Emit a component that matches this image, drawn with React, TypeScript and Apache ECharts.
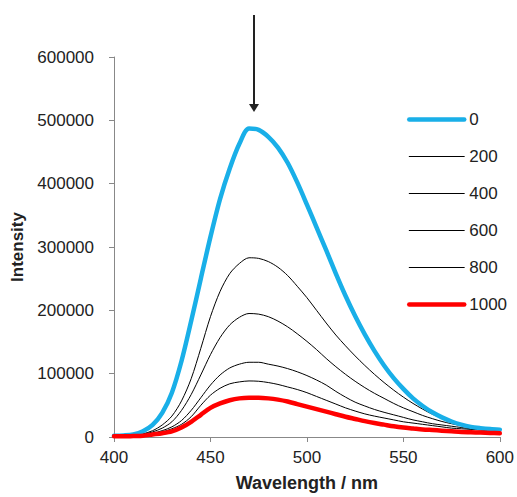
import React, { useEffect, useRef } from "react";
import * as echarts from "echarts";

const wavelengths = [
  400, 405, 410, 415, 420, 425, 430, 435, 440, 445, 450, 455, 460, 465, 470, 475, 480, 485, 490, 495,
  500, 505, 510, 515, 520, 525, 530, 535, 540, 545, 550, 555, 560, 565, 570, 575, 580, 585, 590, 595, 600,
];
const seriesNames = ["0", "200", "400", "600", "800", "1000"];
// values in thousands
const s0 = [2, 2.5, 4, 9, 19, 38, 70, 120, 183, 250, 316, 376, 424, 463, 487, 485, 474, 457, 433, 402,
  367, 331, 295, 258, 223, 191, 162, 136, 113, 93, 76, 61, 49, 39, 31, 24.5, 19.5, 16, 14, 12.5, 11.5];
const s200 = [1, 1.5, 2.5, 5, 10, 19, 33, 57, 92, 140, 190, 230, 258, 274, 283, 282, 277, 268, 255, 238,
  220, 200, 180, 161, 144, 128, 113, 99, 86, 74, 63, 53, 44, 36, 29.5, 24, 20, 17, 15, 13.5, 12.5];
const s400 = [1, 1.5, 2, 4, 8, 14, 24, 42, 67, 98, 130, 157, 177, 189, 195, 194, 190, 183, 174, 163,
  151, 138, 124, 111, 99, 88, 78, 69, 61, 53, 46, 40, 34, 29, 24.5, 21, 18, 16, 14, 12.5, 11.5];
const s600 = [1, 1, 2, 3, 6, 10, 16, 26, 42, 62, 82, 98, 109, 115, 118, 118, 115, 112, 108, 103,
  97, 90, 82, 72, 63, 55, 49, 43.5, 39, 35, 31, 27, 24, 21, 19, 17, 15, 13, 12, 11, 10];
const s800 = [1, 1, 1.5, 3, 5, 8, 13, 20, 32, 50, 66, 77, 84, 87, 88.5, 88, 86, 83, 79, 75,
  70, 64, 58, 52, 46, 41, 36.5, 33, 30, 27, 24, 22, 20, 18, 16, 14, 13, 12, 11, 10, 9];
const s1000 = [1, 1, 1.5, 2, 4, 6, 9, 15, 24, 35, 46, 53, 58, 61, 62, 62, 61, 59, 56, 52,
  48, 44, 40, 36, 32, 28.5, 25, 22, 19.5, 17, 15, 13.5, 12, 11, 10, 9, 8, 7.5, 7, 6.5, 6];
const allValues = [s0, s200, s400, s600, s800, s1000];
const colors = ["#19afe8", "#000000", "#000000", "#000000", "#000000", "#ff0000"];
const widths = [4.5, 1, 1, 1, 1, 4.5];
const yTicks = [0, 100000, 200000, 300000, 400000, 500000, 600000];

export default function App() {
  const ref = useRef<HTMLDivElement>(null);
  useEffect(() => {
    if (!ref.current) return;
    const chart = echarts.init(ref.current, null, { renderer: "svg" });
    const font = "Liberation Sans, Arial, sans-serif";
    chart.setOption({
      animation: false,
      textStyle: { fontFamily: font },
      grid: { left: 114, right: 16, top: 57, bottom: 57.5, containLabel: false },
      xAxis: {
        type: "value",
        min: 400,
        max: 600,
        interval: 50,
        name: "Wavelength / nm",
        nameLocation: "middle",
        nameGap: 37,
        nameTextStyle: { fontSize: 18, fontWeight: "bold", color: "#222", fontFamily: font },
        axisLine: { show: true, lineStyle: { color: "#888", width: 1 } },
        axisTick: { show: true, length: 5, lineStyle: { color: "#888" } },
        axisLabel: { fontSize: 17, color: "#222", margin: 12, fontFamily: font },
        splitLine: { show: false },
      },
      yAxis: {
        type: "value",
        min: yTicks[0],
        max: yTicks[yTicks.length - 1],
        interval: 100000,
        name: "Intensity",
        nameLocation: "middle",
        nameGap: 87,
        nameRotate: 90,
        nameTextStyle: { fontSize: 17, fontWeight: "bold", color: "#222", fontFamily: font },
        axisLine: { show: true, lineStyle: { color: "#888", width: 1 } },
        axisTick: { show: true, length: 5, lineStyle: { color: "#888" } },
        axisLabel: { fontSize: 17, color: "#222", margin: 20, fontFamily: font, formatter: (v: number) => String(v) },
        splitLine: { show: false },
      },
      legend: {
        orient: "vertical",
        left: 402,
        top: 106,
        itemWidth: 55,
        itemHeight: 14,
        itemGap: 20,
        itemStyle: { opacity: 0 },
        textStyle: { fontSize: 17, color: "#222", fontFamily: font },
        data: seriesNames.map((n, i) => ({
          name: n,
          lineStyle: { color: colors[i], width: widths[i], cap: "round" },
        })),
      },
      series: seriesNames.map((n, i) => ({
        name: n,
        type: "line",
        showSymbol: false,
        symbol: "none",
        smooth: 0.3,
        color: colors[i],
        lineStyle: { color: colors[i], width: widths[i], cap: "round", join: "round" },
        data: wavelengths.map((w, k) => [w, allValues[i][k] * 1000]),
        z: i === 0 || i === 5 ? 3 : 2,
      })),
      graphic: [
        { type: "line", shape: { x1: 254, y1: 15, x2: 254, y2: 106 }, style: { stroke: "#222", lineWidth: 2 } },
        { type: "polygon", shape: { points: [[249, 104], [259, 104], [254, 112]] }, style: { fill: "#222" } },
      ],
    });
    return () => chart.dispose();
  }, []);
  return <div ref={ref} style={{ position: "absolute", left: 0, top: 0, width: 517, height: 497 }} />;
}
